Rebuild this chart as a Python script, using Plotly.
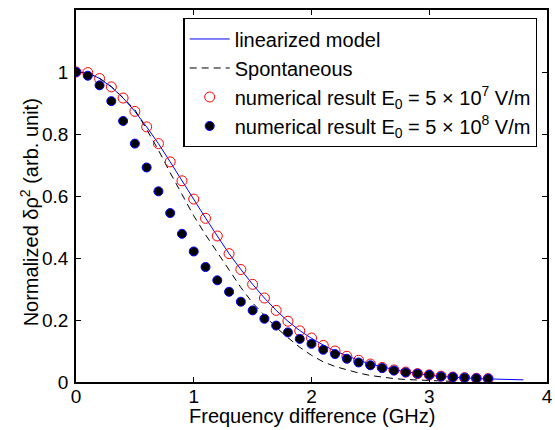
import plotly.graph_objects as go

# frequency difference (GHz) for the numerical results
freq = [0.0, 0.1, 0.2, 0.3, 0.4, 0.5, 0.6, 0.7, 0.8, 0.9,
        1.0, 1.1, 1.2, 1.3, 1.4, 1.5, 1.6, 1.7, 1.8, 1.9,
        2.0, 2.1, 2.2, 2.3, 2.4, 2.5, 2.6, 2.7, 2.8, 2.9,
        3.0, 3.1, 3.2, 3.3, 3.4, 3.5]

# E0 = 5e7 V/m (open red circles)
res_e7 = [1.000, 0.998, 0.979, 0.952, 0.916, 0.873, 0.823, 0.769, 0.710, 0.649,
          0.590, 0.528, 0.471, 0.414, 0.363, 0.315, 0.271, 0.231, 0.196, 0.165,
          0.142, 0.118, 0.100, 0.083, 0.070, 0.058, 0.047, 0.039, 0.032, 0.027,
          0.023, 0.019, 0.016, 0.014, 0.012, 0.011]

# E0 = 5e8 V/m (filled dots)
res_e8 = [1.000, 0.988, 0.957, 0.906, 0.842, 0.769, 0.692, 0.615, 0.545, 0.478,
          0.421, 0.371, 0.328, 0.291, 0.259, 0.231, 0.204, 0.182, 0.160, 0.139,
          0.123, 0.104, 0.090, 0.075, 0.063, 0.054, 0.045, 0.037, 0.031, 0.027,
          0.023, 0.018, 0.016, 0.014, 0.012, 0.011]

# linearized model curve
lin_x = [0.0, 0.1, 0.2, 0.3, 0.4, 0.5, 0.6, 0.7, 0.8, 0.9,
         1.0, 1.1, 1.2, 1.3, 1.4, 1.5, 1.6, 1.7, 1.8, 1.9,
         2.0, 2.1, 2.2, 2.3, 2.4, 2.5, 2.6, 2.7, 2.8, 2.9,
         3.0, 3.1, 3.2, 3.3, 3.4, 3.5, 3.6, 3.7, 3.8]
lin_y = [1.000, 0.998, 0.979, 0.952, 0.916, 0.873, 0.823, 0.769, 0.710, 0.649,
         0.590, 0.529, 0.471, 0.414, 0.363, 0.315, 0.271, 0.231, 0.196, 0.166,
         0.141, 0.119, 0.100, 0.084, 0.070, 0.058, 0.048, 0.040, 0.033, 0.027,
         0.022, 0.018, 0.015, 0.013, 0.011, 0.010, 0.009, 0.008, 0.007]

# spontaneous curve
spon_x = [0.0, 0.1, 0.2, 0.3, 0.4, 0.5, 0.6, 0.7, 0.8, 0.9,
          1.0, 1.1, 1.2, 1.3, 1.4, 1.5, 1.6, 1.7, 1.8, 1.9,
          2.0, 2.1, 2.2, 2.3, 2.4, 2.5, 2.6, 2.7, 2.8, 2.9,
          3.0, 3.1, 3.2]
spon_y = [1.000, 0.996, 0.980, 0.953, 0.917, 0.878, 0.815, 0.748, 0.675, 0.605,
          0.536, 0.475, 0.418, 0.360, 0.305, 0.255, 0.214, 0.176, 0.143, 0.112,
          0.086, 0.065, 0.050, 0.039, 0.029, 0.021, 0.015, 0.011, 0.008, 0.006,
          0.004, 0.003, 0.002]

y_ticks = [0, 0.2, 0.4, 0.6, 0.8, 1]
y_labels = ["0", "0.2", "0.4", "0.6", "0.8", "1"]
x_ticks = [0, 1, 2, 3, 4]

FONT = "Liberation Sans, Arial, Helvetica, sans-serif"

fig = go.Figure()

fig.add_trace(go.Scatter(
    x=lin_x, y=lin_y, mode="lines", name="linearized model",
    line=dict(color="#0000ff", width=1),
))
fig.add_trace(go.Scatter(
    x=spon_x, y=spon_y, mode="lines", name="Spontaneous",
    line=dict(color="black", width=1, dash="7px,5px"),
))
fig.add_trace(go.Scatter(
    x=freq, y=res_e7, mode="markers",
    name="numerical result E<sub>0</sub> = 5 \u00d7 10<sup>7</sup> V/m",
    marker=dict(symbol="circle-open", color="#ff0000", size=10, line=dict(width=1)),
))
fig.add_trace(go.Scatter(
    x=freq, y=res_e8, mode="markers",
    name="numerical result E<sub>0</sub> = 5 \u00d7 10<sup>8</sup> V/m",
    marker=dict(symbol="circle", color="black", size=9,
                line=dict(color="#0000ff", width=1)),
))

axis_common = dict(
    showline=True, linecolor="black", linewidth=1.5, mirror="allticks",
    ticks="inside", ticklen=5, tickwidth=1, tickcolor="black",
    showgrid=False, zeroline=False, automargin=False,
    tickfont=dict(family=FONT, size=19, color="black"),
)

fig.update_layout(
    width=555, height=430,
    margin=dict(l=76, r=8, t=10, b=48),
    paper_bgcolor="white", plot_bgcolor="white",
    font=dict(family=FONT, size=20, color="black"),
    showlegend=True,
    legend=dict(
        x=0.228, y=0.978, xanchor="left", yanchor="top",
        bgcolor="white", bordercolor="black", borderwidth=1.3,
        font=dict(family=FONT, size=20, color="black"),
        tracegroupgap=0, itemwidth=40,
    ),
    xaxis=dict(range=[0, 4], tickvals=x_ticks, ticklabelstandoff=-4, **axis_common),
    yaxis=dict(range=[0, 1.2], tickvals=y_ticks, ticktext=y_labels,
               ticklabelstandoff=2, **axis_common),
    annotations=[
        dict(text="Frequency difference (GHz)", xref="paper", yref="paper",
             x=0.5, y=-0.0914, xanchor="center", yanchor="middle",
             showarrow=False, font=dict(family=FONT, size=20, color="black")),
        dict(text="Normalized \u03b4\u03c1<sup>2</sup> (arb. unit)", xref="paper", yref="paper",
             x=-0.0998, y=0.456, xanchor="center", yanchor="middle", textangle=-90,
             showarrow=False, font=dict(family=FONT, size=20, color="black")),
    ],
)

# drop the default 8px body margin so the figure fills the window exactly
fig.write_html(
    "out.html",
    config={"displayModeBar": False},
    post_script="document.body.style.margin='0';document.body.style.overflow='hidden';",
)
